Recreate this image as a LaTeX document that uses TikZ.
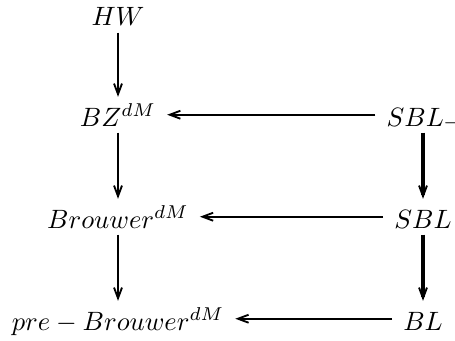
\documentclass[tikz,border=0pt]{standalone}
\usepackage{amsmath}
\usepackage{amssymb}
\usetikzlibrary{arrows.meta}

\begin{document}
\begin{tikzpicture}[>={Straight Barb[length=4pt,width=3pt,line width=0.7pt]},line join=bevel,x=0.377pt,y=-0.377pt,
  every node/.style={anchor=base,inner xsep=4pt,inner ysep=0.3pt,text height=10.5pt,text depth=2pt},
  thinline/.style={line width=0.8pt},
  thickline/.style={line width=1.5pt}]
\useasboundingbox (0,0) rectangle (455,340);
%%
\node (hw) at (118,26) {$HW$};
  \node (bz) at (118,126) {$BZ^{dM}$};
  \node (sbln) at (423,126) {$SBL_{\neg}$};
  \node (brouwer) at (118,228) {$Brouwer^{dM}$};
  \node (sbl) at (423,228) {$SBL$};
  \node (prebrouwer) at (118,330) {$pre-Brouwer^{dM}$};
  \node (bl) at (423,330) {$BL$};
  \draw [black,thinline,->] (hw) -- (bz);
  \draw [black,thinline,->] (bz) -- (brouwer);
  \draw [black,thinline,->] (brouwer) -- (prebrouwer);
  \draw [black,thinline,->] (sbln) -- (bz);
  \draw [black,thinline,->] (sbl) -- (brouwer);
  \draw [black,thinline,->] (bl) -- (prebrouwer);
  \draw [black,thickline,->] (sbln) -- (sbl);
  \draw [black,thickline,->] (sbl) -- (bl);
%
\end{tikzpicture}
\end{document}
